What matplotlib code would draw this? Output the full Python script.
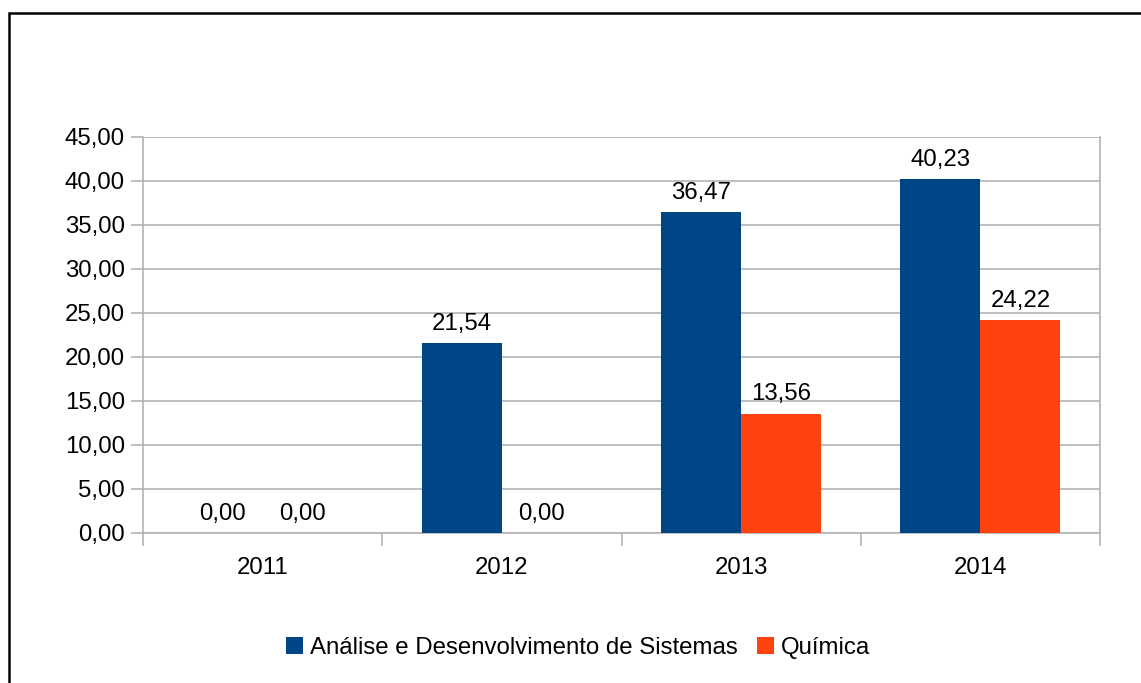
import matplotlib.pyplot as plt
from matplotlib.patches import Rectangle
from matplotlib.ticker import FixedLocator, FuncFormatter
import numpy as np

plt.rcParams['font.family'] = ['Liberation Sans', 'DejaVu Sans']

years = ['2011', '2012', '2013', '2014']
ads = [0.00, 21.54, 36.47, 40.23]
quimica = [0.00, 0.00, 13.56, 24.22]
series_names = ['Análise e Desenvolvimento de Sistemas', 'Química']
colors = ['#004586', '#ff420e']

fs = 17.3

fig = plt.figure(figsize=(11.41, 6.83), dpi=100)
ax = fig.add_axes([143 / 1141, 1 - 533 / 683, (1100 - 143) / 1141, (533 - 137) / 683])

x = np.arange(len(years))
w = 80 / 239
bars = []
for i, (vals, name, col) in enumerate(zip([ads, quimica], series_names, colors)):
    pos = x + (i - 0.5) * w
    b = ax.bar(pos, vals, w, color=col, label=name, zorder=3)
    bars.append(b)
    for xi, v in zip(pos, vals):
        ax.annotate(f'{v:.2f}'.replace('.', ','), (xi, v), xytext=(0, 6),
                    textcoords='offset points', ha='center', va='bottom',
                    fontsize=fs, color='black')

ax.set_xlim(-0.5, len(years) - 0.5)
ax.set_ylim(0, 45)
ax.set_yticks(np.arange(0, 46, 5))
ax.yaxis.set_major_formatter(FuncFormatter(lambda v, p: f'{v:.2f}'.replace('.', ',')))
ax.yaxis.grid(True, color='#b3b3b3', linewidth=1.2, zorder=0)

ax.set_xticks(x)
ax.set_xticklabels(years)
ax.xaxis.set_minor_locator(FixedLocator(np.arange(-0.5, len(years), 1)))
ax.tick_params(axis='x', which='major', length=0, pad=17, labelsize=fs)
ax.tick_params(axis='x', which='minor', length=9, color='#b3b3b3', width=1.2)
ax.tick_params(axis='y', length=9, color='#b3b3b3', width=1.2, pad=4, labelsize=fs)

ax.spines['top'].set_visible(False)
for s in ['left', 'right', 'bottom']:
    ax.spines[s].set_color('#b3b3b3')
    ax.spines[s].set_linewidth(1.2)

fig.legend(handles=bars, labels=series_names, loc='center', bbox_to_anchor=(578 / 1141, 1 - 648 / 683),
           ncol=2, frameon=False, fontsize=fs, handlelength=0.7, handleheight=0.7,
           handletextpad=0.3, columnspacing=0.8)

# outer frame of the chart
fig.patches.append(Rectangle((9 / 1141, -0.05), 1.2, 1 - 12.5 / 683 + 0.05,
                             transform=fig.transFigure, fill=False,
                             edgecolor='black', linewidth=1.8, clip_on=False))

fig.savefig('out.png', dpi=100)
